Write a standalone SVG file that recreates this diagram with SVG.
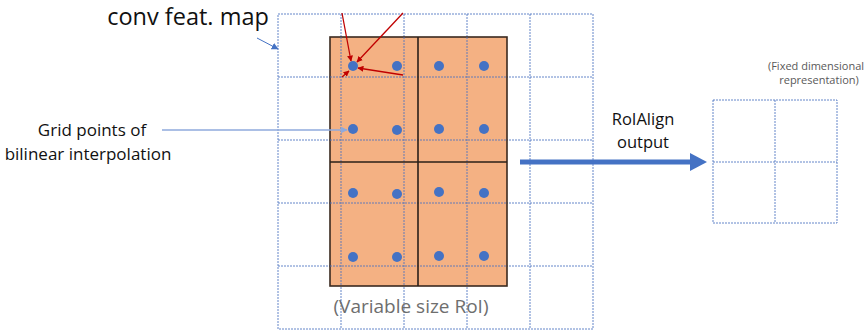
<svg xmlns="http://www.w3.org/2000/svg" width="867" height="331" viewBox="0 0 867 331">
<style>
.grid{fill:none;stroke:#4a72c0;stroke-width:1;stroke-dasharray:2 1;opacity:0.85}
.roi{fill:#f4b183;stroke:#3a2a20;stroke-width:1.6}
.div{stroke:#2b2019;stroke-width:1.6}
.dot{fill:#4472c4}
.red{stroke:#c00000;stroke-width:1.3;fill:none}
.t{font-family:"Open Sans","Liberation Sans",sans-serif}
</style>
<defs>
<marker id="ra" viewBox="0 0 10 10" refX="9" refY="5" markerWidth="6" markerHeight="6" orient="auto" markerUnits="userSpaceOnUse"><path d="M0,0 L10,5 L0,10 z" fill="#c00000"/></marker>
<marker id="ba" viewBox="0 0 10 10" refX="9" refY="5" markerWidth="7" markerHeight="7" orient="auto" markerUnits="userSpaceOnUse"><path d="M0,0 L10,5 L0,10 z" fill="#4472c4"/></marker>
<marker id="la" viewBox="0 0 10 10" refX="9" refY="5" markerWidth="7" markerHeight="7" orient="auto" markerUnits="userSpaceOnUse"><path d="M0,0 L10,5 L0,10 z" fill="#8faadc"/></marker>
</defs>
<g id="featmap">
<rect class="grid" x="278" y="14" width="315" height="315"/>
<path class="grid" d="M341,14V329M404,14V329M467,14V329M530,14V329M278,77H593M278,140H593M278,203H593M278,266H593"/>
</g>
<g id="roi">
<rect class="roi" x="330" y="37" width="177" height="249"/>
<path class="grid" d="M341,37V286M404,37V286M467,37V286M330,77H507M330,140H507M330,203H507M330,266H507"/>
<path class="div" d="M418,37V286M330,162H507"/>
<g class="dot">
<circle cx="353" cy="66" r="5"/><circle cx="397" cy="66" r="5"/><circle cx="439" cy="66" r="5"/><circle cx="484" cy="66" r="5"/>
<circle cx="353" cy="129" r="5"/><circle cx="397" cy="130" r="5"/><circle cx="439" cy="129" r="5"/><circle cx="484" cy="129" r="5"/>
<circle cx="353" cy="193" r="5"/><circle cx="397" cy="194" r="5"/><circle cx="439" cy="192" r="5"/><circle cx="484" cy="193" r="5"/>
<circle cx="353" cy="257" r="5"/><circle cx="397" cy="257" r="5"/><circle cx="439" cy="256" r="5"/><circle cx="484" cy="256" r="5"/>
</g>
</g>
<g id="output">
<rect class="grid" x="713" y="100" width="124" height="123"/>
<path class="grid" d="M775,100V223M713,162H837"/>
</g>
<g id="connectors">
<path class="red" d="M342,13 L351,61" marker-end="url(#ra)"/>
<path class="red" d="M403,13 L357,62" marker-end="url(#ra)"/>
<path class="red" d="M403,75 L358,68" marker-end="url(#ra)"/>
<path class="red" d="M342,77 L349,71" marker-end="url(#ra)"/>
<path d="M257,38 L278,49" stroke="#4472c4" stroke-width="1" fill="none" marker-end="url(#ba)"/>
<path d="M162,130 L347,130" stroke="#8faadc" stroke-width="1.3" fill="none" marker-end="url(#la)"/>
<path d="M520,162 L692,162" stroke="#4472c4" stroke-width="5" fill="none"/>
<path d="M690,153 L707,162 L690,171 z" fill="#4472c4"/>
</g>
<g id="labels" class="t">
<text x="188" y="25" font-size="23.5" text-anchor="middle" fill="#111">conv feat. map</text>
<text x="92" y="136" font-size="17" text-anchor="middle" fill="#111">Grid points of</text>
<text x="88" y="160" font-size="17" text-anchor="middle" fill="#111">bilinear interpolation</text>
<text x="643" y="125" font-size="16.5" text-anchor="middle" fill="#111">RoIAlign</text>
<text x="643" y="148" font-size="16.5" text-anchor="middle" fill="#111">output</text>
<text x="816" y="70" font-size="11" text-anchor="middle" fill="#595959">(Fixed dimensional</text>
<text x="819" y="84" font-size="11" text-anchor="middle" fill="#595959">representation)</text>
<text x="411" y="313" font-size="19" text-anchor="middle" fill="#6e6e6e">(Variable size RoI)</text>
</g>
</svg>
